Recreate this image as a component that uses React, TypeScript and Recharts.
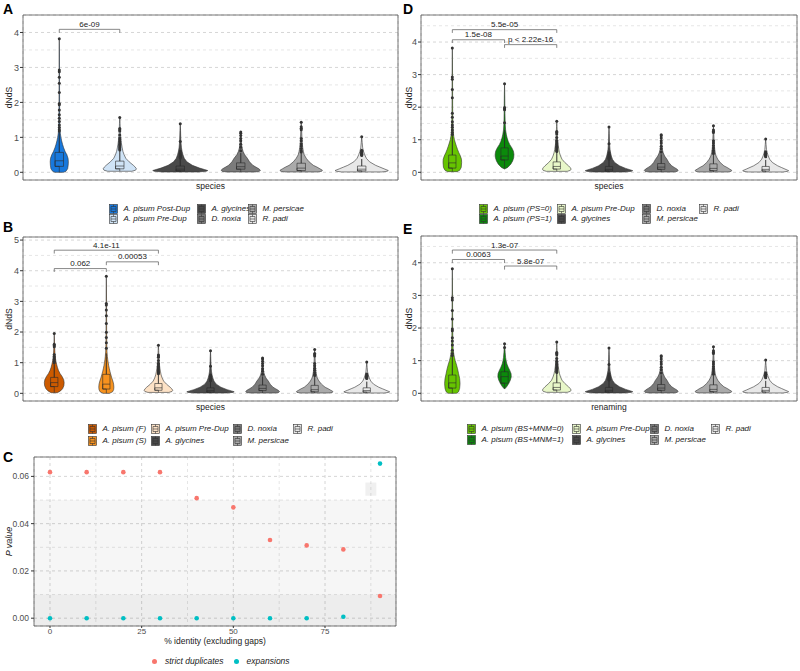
import React from "react";
import {
  ScatterChart,
  Scatter,
  XAxis,
  YAxis,
  CartesianGrid,
  ReferenceArea,
} from "recharts";

// [dNdS, half width of the violin in category units], bottom to top
type Density = [number, number][];
// [lower whisker, Q1, median, Q3, upper whisker]
type Box = [number, number, number, number, number];

const POST_DUP_DENSITY: Density = [
  [0, 0.07], [0.03, 0.11], [0.1, 0.138], [0.2, 0.147], [0.3, 0.15], [0.4, 0.145],
  [0.5, 0.125], [0.6, 0.095], [0.7, 0.072], [0.8, 0.054], [0.9, 0.039], [1.0, 0.027],
  [1.1, 0.018], [1.2, 0.012], [1.4, 0.008], [1.7, 0.006], [2.0, 0.005], [2.5, 0.004],
  [3.0, 0.003], [3.5, 0.002], [3.82, 0],
];
const PRE_DUP_DENSITY: Density = [
  [0.03, 0.2], [0.06, 0.26], [0.1, 0.275], [0.15, 0.255], [0.2, 0.225], [0.3, 0.155],
  [0.4, 0.1], [0.5, 0.072], [0.6, 0.052], [0.7, 0.04], [0.8, 0.03], [0.9, 0.022],
  [1.0, 0.016], [1.1, 0.011], [1.25, 0.008], [1.4, 0.005], [1.57, 0],
];
const GLYCINES_DENSITY: Density = [
  [0.01, 0.3], [0.03, 0.43], [0.05, 0.455], [0.08, 0.4], [0.12, 0.32], [0.2, 0.2],
  [0.3, 0.11], [0.4, 0.066], [0.5, 0.045], [0.6, 0.03], [0.7, 0.02], [0.85, 0.012],
  [1.0, 0.008], [1.2, 0.005], [1.39, 0],
];
const NOXIA_DENSITY: Density = [
  [0.01, 0.24], [0.03, 0.31], [0.06, 0.325], [0.1, 0.3], [0.15, 0.25], [0.2, 0.2],
  [0.3, 0.145], [0.4, 0.11], [0.5, 0.065], [0.6, 0.038], [0.7, 0.022], [0.8, 0.014],
  [0.95, 0.008], [1.15, 0],
];
const PERSICAE_DENSITY: Density = [
  [0.01, 0.26], [0.03, 0.34], [0.06, 0.35], [0.1, 0.31], [0.15, 0.26], [0.2, 0.2],
  [0.3, 0.13], [0.4, 0.083], [0.5, 0.05], [0.6, 0.035], [0.7, 0.025], [0.85, 0.016],
  [1.0, 0.012], [1.2, 0.007], [1.43, 0],
];
const PADI_DENSITY: Density = [
  [0.01, 0.33], [0.03, 0.42], [0.05, 0.44], [0.1, 0.37], [0.15, 0.3], [0.2, 0.23],
  [0.3, 0.13], [0.4, 0.077], [0.5, 0.05], [0.6, 0.03], [0.7, 0.016], [0.85, 0.008],
  [1.02, 0],
];
const F_DENSITY: Density = [
  [0.02, 0.06], [0.08, 0.12], [0.15, 0.16], [0.25, 0.185], [0.35, 0.19], [0.45, 0.18],
  [0.55, 0.15], [0.65, 0.11], [0.75, 0.08], [0.85, 0.06], [0.95, 0.045], [1.05, 0.032],
  [1.15, 0.022], [1.3, 0.014], [1.5, 0.008], [1.7, 0.005], [1.95, 0],
];
const S_DENSITY: Density = [
  [0, 0.06], [0.05, 0.12], [0.12, 0.14], [0.2, 0.145], [0.3, 0.14], [0.4, 0.125],
  [0.5, 0.105], [0.6, 0.088], [0.7, 0.072], [0.8, 0.058], [0.9, 0.046], [1.0, 0.036],
  [1.1, 0.027], [1.2, 0.02], [1.35, 0.013], [1.6, 0.008], [2.0, 0.006], [2.5, 0.005],
  [3.0, 0.004], [3.5, 0.002], [3.82, 0],
];
const PS0_DENSITY: Density = [
  [0.02, 0.09], [0.06, 0.14], [0.15, 0.17], [0.3, 0.178], [0.4, 0.175], [0.5, 0.155],
  [0.6, 0.125], [0.7, 0.1], [0.8, 0.078], [0.9, 0.058], [1.0, 0.04], [1.1, 0.028],
  [1.2, 0.02], [1.4, 0.012], [1.7, 0.008], [2.0, 0.006], [2.5, 0.005], [3.0, 0.004],
  [3.5, 0.002], [3.82, 0],
];
const PS1_DENSITY: Density = [
  [0.1, 0], [0.15, 0.06], [0.25, 0.12], [0.35, 0.155], [0.45, 0.175], [0.55, 0.18],
  [0.65, 0.17], [0.75, 0.14], [0.85, 0.1], [0.95, 0.07], [1.05, 0.05], [1.15, 0.035],
  [1.3, 0.02], [1.5, 0.012], [1.8, 0.008], [2.1, 0.006], [2.4, 0.004], [2.72, 0],
];
const BS0_DENSITY: Density = [
  [0, 0.08], [0.05, 0.12], [0.15, 0.14], [0.3, 0.148], [0.45, 0.14], [0.6, 0.12],
  [0.75, 0.1], [0.9, 0.075], [1.0, 0.055], [1.1, 0.04], [1.2, 0.028], [1.35, 0.016],
  [1.6, 0.01], [2.0, 0.007], [2.5, 0.005], [3.0, 0.004], [3.5, 0.002], [3.82, 0],
];
const BS1_DENSITY: Density = [
  [0.13, 0], [0.2, 0.04], [0.3, 0.08], [0.4, 0.11], [0.5, 0.128], [0.6, 0.125],
  [0.7, 0.1], [0.8, 0.07], [0.9, 0.045], [1.0, 0.03], [1.1, 0.02], [1.25, 0.012],
  [1.4, 0.006], [1.53, 0],
];

const POST_DUP_BOX: Box = [0, 0.17, 0.33, 0.57, 1.15];
const PRE_DUP_BOX: Box = [0.03, 0.1, 0.18, 0.32, 0.62];
const GLYCINES_BOX: Box = [0.01, 0.04, 0.09, 0.18, 0.38];
const NOXIA_BOX: Box = [0.01, 0.09, 0.16, 0.27, 0.55];
const PERSICAE_BOX: Box = [0.01, 0.05, 0.12, 0.26, 0.55];
const PADI_BOX: Box = [0.01, 0.04, 0.09, 0.18, 0.38];
const F_BOX: Box = [0.02, 0.22, 0.35, 0.52, 0.95];
const S_BOX: Box = [0, 0.14, 0.3, 0.62, 1.3];
const PS0_BOX: Box = [0.02, 0.13, 0.29, 0.53, 1.12];
const PS1_BOX: Box = [0.12, 0.38, 0.5, 0.75, 1.3];
const BS0_BOX: Box = [0, 0.16, 0.32, 0.56, 1.15];
const BS1_BOX: Box = [0.15, 0.31, 0.51, 0.66, 1.0];

const POST_DUP_OUTLIERS = [3.82, 2.93, 2.88, 2.72, 2.55, 2.28, 1.97, 1.93, 1.78, 1.65, 1.55, 1.45, 1.35, 1.28, 1.22, 1.18];
const PRE_DUP_OUTLIERS = [1.57, 1.25, 1.22, 1.18, 1.07, 0.98, 0.93, 0.88, 0.84, 0.8, 0.77, 0.73, 0.7, 0.67, 0.64];
const GLYCINES_OUTLIERS = [1.39, 0.88, 0.6, 0.55, 0.52, 0.49, 0.46, 0.43, 0.41];
const NOXIA_OUTLIERS = [1.15, 1.12, 1.05, 0.97, 0.9, 0.8, 0.72, 0.62];
const PERSICAE_OUTLIERS = [1.43, 1.3, 1.26, 1.22, 0.97, 0.9, 0.82, 0.75, 0.68, 0.62, 0.58];
const PADI_OUTLIERS = [1.02, 0.63, 0.6, 0.58, 0.56, 0.54, 0.52, 0.5, 0.48];
const F_OUTLIERS = [1.95, 1.6, 1.56, 1.52, 1.27, 1.2, 1.15, 1.1, 1.05, 1.0];
const S_OUTLIERS = [3.82, 2.93, 2.88, 2.72, 2.53, 2.28, 1.99, 1.82, 1.65, 1.47];
const PS0_OUTLIERS = [3.82, 2.93, 2.86, 2.54, 2.29, 1.81, 1.69, 1.55, 1.45, 1.38, 1.3, 1.22, 1.16];
const PS1_OUTLIERS = [2.72, 1.99, 1.95, 1.92, 1.52];
const BS0_OUTLIERS = [3.82, 2.93, 2.86, 2.54, 2.28, 1.97, 1.92, 1.7, 1.6, 1.48, 1.32, 1.22, 1.16];
const BS1_OUTLIERS = [1.52, 1.4];

const A_NAMES = ["A. pisum Post-Dup", "A. pisum Pre-Dup", "A. glycines", "D. noxia", "M. persicae", "R. padi"];
const B_NAMES = ["A. pisum (F)", "A. pisum (S)", "A. pisum Pre-Dup", "A. glycines", "D. noxia", "M. persicae", "R. padi"];
const D_NAMES = ["A. pisum (PS=0)", "A. pisum (PS=1)", "A. pisum Pre-Dup", "A. glycines", "D. noxia", "M. persicae", "R. padi"];
const E_NAMES = ["A. pisum (BS+MNM=0)", "A. pisum (BS+MNM=1)", "A. pisum Pre-Dup", "A. glycines", "D. noxia", "M. persicae", "R. padi"];

type Test = { from: number; to: number; y: number; p: string };
const A_TESTS: Test[] = [{ from: 1, to: 2, y: 4.09, p: "6e-09" }];
const B_TESTS: Test[] = [
  { from: 1, to: 2, y: 4.07, p: "0.062" },
  { from: 2, to: 3, y: 4.29, p: "0.00053" },
  { from: 1, to: 3, y: 4.67, p: "4.1e-11" },
];
const D_TESTS: Test[] = [
  { from: 1, to: 3, y: 4.38, p: "5.5e-05" },
  { from: 1, to: 2, y: 4.07, p: "1.5e-08" },
  { from: 2, to: 3, y: 3.92, p: "p < 2.22e-16" },
];
const E_TESTS: Test[] = [
  { from: 1, to: 3, y: 4.39, p: "1.3e-07" },
  { from: 1, to: 2, y: 4.1, p: "0.0063" },
  { from: 2, to: 3, y: 3.9, p: "5.8e-07" },
];

// panel C
const IDENTITY = [0, 10, 20, 30, 40, 50, 60, 70, 80, 90];
const STRICT_P = [0.0618, 0.0618, 0.0618, 0.0618, 0.0508, 0.0469, 0.0331, 0.0308, 0.0291, 0.0094];
const EXPANSION_P = [0, 0, 0, 0, 0, 0, 0, 0, 0.0006, 0.0654];

const FONT = '"Liberation Sans", Arial, Helvetica, sans-serif';
const GREYS = ["#4a4a4a", "#7b7b7b", "#aaaaaa", "#e8e8e8"];
const TICK = { fontSize: 9, fill: "#4d4d4d" };
const BOX_HALF = 0.07;

type Group = { name: string; fill: string; density: Density; box: Box; outliers: number[] };

const sharedGroups = (names: string[], preDupFill: string): Group[] => [
  { name: names[names.length - 5], fill: preDupFill, density: PRE_DUP_DENSITY, box: PRE_DUP_BOX, outliers: PRE_DUP_OUTLIERS },
  { name: names[names.length - 4], fill: GREYS[0], density: GLYCINES_DENSITY, box: GLYCINES_BOX, outliers: GLYCINES_OUTLIERS },
  { name: names[names.length - 3], fill: GREYS[1], density: NOXIA_DENSITY, box: NOXIA_BOX, outliers: NOXIA_OUTLIERS },
  { name: names[names.length - 2], fill: GREYS[2], density: PERSICAE_DENSITY, box: PERSICAE_BOX, outliers: PERSICAE_OUTLIERS },
  { name: names[names.length - 1], fill: GREYS[3], density: PADI_DENSITY, box: PADI_BOX, outliers: PADI_OUTLIERS },
];

const GROUPS_A: Group[] = [
  { name: A_NAMES[0], fill: "#1878dc", density: POST_DUP_DENSITY, box: POST_DUP_BOX, outliers: POST_DUP_OUTLIERS },
  ...sharedGroups(A_NAMES, "#cfe3f6"),
];
const GROUPS_B: Group[] = [
  { name: B_NAMES[0], fill: "#cc5a00", density: F_DENSITY, box: F_BOX, outliers: F_OUTLIERS },
  { name: B_NAMES[1], fill: "#f7921e", density: S_DENSITY, box: S_BOX, outliers: S_OUTLIERS },
  ...sharedGroups(B_NAMES, "#fde2c6"),
];
const GROUPS_D: Group[] = [
  { name: D_NAMES[0], fill: "#66c400", density: PS0_DENSITY, box: PS0_BOX, outliers: PS0_OUTLIERS },
  { name: D_NAMES[1], fill: "#0b8a0b", density: PS1_DENSITY, box: PS1_BOX, outliers: PS1_OUTLIERS },
  ...sharedGroups(D_NAMES, "#e8f7c9"),
];
const GROUPS_E: Group[] = [
  { name: E_NAMES[0], fill: "#66c400", density: BS0_DENSITY, box: BS0_BOX, outliers: BS0_OUTLIERS },
  { name: E_NAMES[1], fill: "#0b8a0b", density: BS1_DENSITY, box: BS1_BOX, outliers: BS1_OUTLIERS },
  ...sharedGroups(E_NAMES, "#e8f7c9"),
];

const violinOutline = (c: number, d: Density) => {
  const right = d.map(([y, w]) => ({ x: c + w, y }));
  const left = [...d].reverse().map(([y, w]) => ({ x: c - w, y }));
  return [...right, ...left, right[0]];
};

const boxOutline = (c: number, [lo, q1, med, q3, hi]: Box) => {
  const b = BOX_HALF;
  return [
    { x: c, y: lo }, { x: c, y: q1 }, { x: c - b, y: q1 }, { x: c + b, y: q1 },
    { x: c + b, y: q3 }, { x: c, y: q3 }, { x: c, y: hi }, { x: c, y: q3 },
    { x: c - b, y: q3 }, { x: c - b, y: q1 }, { x: c - b, y: med }, { x: c + b, y: med },
  ];
};

const emptyShape = () => <g />;
const outlierShape = (p: any) => <circle cx={p.cx} cy={p.cy} r={1.5} fill="#333" />;
const pLabelShape = (p: any) => (
  <text x={p.cx} y={p.cy - 2.5} textAnchor="middle" fontSize={8} fill="#222">
    {p.payload.p}
  </text>
);

type PanelProps = {
  groups: Group[];
  tests: Test[];
  yDomain: [number, number];
  yTicks: number[];
  minor: number[];
  tip: number;
  xTitle: string;
  yAxisWidth: number;
  margin: { top: number; right: number; bottom: number; left: number };
};

function ViolinPanel({ groups, tests, yDomain, yTicks, minor, tip, xTitle, yAxisWidth, margin }: PanelProps) {
  const cats = groups.map((_, i) => i + 1);
  const xDomain: [number, number] = [0.4, groups.length + 0.6];
  const outliers = groups.flatMap((g, i) => g.outliers.map((y) => ({ x: i + 1, y })));
  const labels = tests.map((t) => ({ x: (t.from + t.to) / 2, y: t.y, p: t.p }));
  return (
    <ScatterChart width={400} height={200} margin={margin}>
      <CartesianGrid stroke="#d6d6d6" strokeDasharray="3 3" />
      <CartesianGrid stroke="#e6e6e6" strokeDasharray="3 3" vertical={false} horizontalValues={minor} />
      <XAxis
        type="number"
        dataKey="x"
        domain={xDomain}
        ticks={cats}
        allowDataOverflow
        tick={false}
        tickLine={false}
        axisLine={false}
        height={10}
        label={{ value: xTitle, position: "insideBottom", offset: 1, fontSize: 8.5, fill: "#1a1a1a" }}
      />
      <YAxis
        type="number"
        dataKey="y"
        domain={yDomain}
        ticks={yTicks}
        allowDataOverflow
        width={yAxisWidth}
        tick={TICK}
        tickSize={3}
        tickMargin={1}
        tickLine={{ stroke: "#333" }}
        axisLine={false}
        label={{ value: "dNdS", angle: -90, position: "insideLeft", offset: 8.5, fontSize: 8.5, fill: "#1a1a1a", style: { textAnchor: "middle" } }}
      />
      <ReferenceArea x1={xDomain[0]} x2={xDomain[1]} y1={yDomain[0]} y2={yDomain[1]} fill="none" stroke="#555" strokeWidth={0.8} />
      {groups.map((g, i) => (
        <Scatter
          key={`v${i}`}
          data={violinOutline(i + 1, g.density)}
          line={{ fill: g.fill, stroke: "#333", strokeWidth: 0.6 }}
          shape={emptyShape}
          isAnimationActive={false}
        />
      ))}
      {groups.map((g, i) => (
        <Scatter
          key={`b${i}`}
          data={boxOutline(i + 1, g.box)}
          line={{ fill: "none", stroke: "#2a2a2a", strokeWidth: 0.6 }}
          shape={emptyShape}
          isAnimationActive={false}
        />
      ))}
      <Scatter data={outliers} shape={outlierShape} isAnimationActive={false} />
      {tests.map((t, i) => (
        <Scatter
          key={`t${i}`}
          data={[
            { x: t.from, y: t.y - tip },
            { x: t.from, y: t.y },
            { x: t.to, y: t.y },
            { x: t.to, y: t.y - tip },
          ]}
          line={{ fill: "none", stroke: "#555", strokeWidth: 0.7 }}
          shape={emptyShape}
          isAnimationActive={false}
        />
      ))}
      <Scatter data={labels} shape={pLabelShape} isAnimationActive={false} />
    </ScatterChart>
  );
}

function LegendKey({ fill }: { fill: string }) {
  return (
    <svg width={9} height={10} style={{ display: "block", flex: "none" }}>
      <rect x={0.5} y={0.5} width={8} height={9} fill={fill} stroke="#333" strokeWidth={0.6} />
      <path d="M4.5 0.5V2.5M4.5 7.5V9.5M2 2.5H7V7.5H2ZM2 5H7" fill="none" stroke="#333" strokeWidth={0.6} />
    </svg>
  );
}

function ViolinLegend({ groups, cols, rows }: { groups: Group[]; cols: number[]; rows: number[] }) {
  return (
    <>
      {groups.map((g, i) => {
        const left = cols[Math.floor(i / 2)];
        const top = rows[i % 2];
        return (
          <div key={g.name} style={{ position: "absolute", left, top, height: 10, display: "flex", alignItems: "center" }}>
            <LegendKey fill={g.fill} />
            <span style={{ marginLeft: 5.5, fontSize: 8, fontStyle: "italic", lineHeight: "10px", whiteSpace: "nowrap", color: "#1a1a1a" }}>
              {g.name}
            </span>
          </div>
        );
      })}
    </>
  );
}

function PanelC() {
  const strict = IDENTITY.map((x, i) => ({ x, y: STRICT_P[i] }));
  const expansions = IDENTITY.map((x, i) => ({ x, y: EXPANSION_P[i] }));
  const xDomain: [number, number] = [-4.36, 94.36];
  const yDomain: [number, number] = [-0.0033, 0.0682];
  const dot = (fill: string) => (p: any) => <circle cx={p.cx} cy={p.cy} r={2.3} fill={fill} />;
  return (
    <ScatterChart width={400} height={210} margin={{ top: 17, right: 4, bottom: 6, left: 0 }}>
      <ReferenceArea y1={0.01} y2={0.05} fill="#000" fillOpacity={0.035} stroke="none" />
      <ReferenceArea y1={yDomain[0]} y2={0.01} fill="#000" fillOpacity={0.07} stroke="none" />
      <ReferenceArea x1={86} x2={89} y1={0.0518} y2={0.0574} fill="#000" fillOpacity={0.06} stroke="none" />
      <CartesianGrid stroke="#d6d6d6" strokeDasharray="3 3" />
      <CartesianGrid
        stroke="#e6e6e6"
        strokeDasharray="3 3"
        horizontalValues={[0.01, 0.03, 0.05]}
        verticalValues={[12.5, 37.5, 62.5, 87.5]}
      />
      <XAxis
        type="number"
        dataKey="x"
        domain={xDomain}
        ticks={[0, 25, 50, 75]}
        allowDataOverflow
        tick={{ fontSize: 8, fill: "#4d4d4d" }}
        tickSize={2}
        tickMargin={0}
        tickLine={{ stroke: "#333" }}
        axisLine={false}
        height={18}
        label={{ value: "% identity (excluding gaps)", position: "insideBottom", offset: 0, fontSize: 8.5, fill: "#1a1a1a" }}
      />
      <YAxis
        type="number"
        dataKey="y"
        domain={yDomain}
        ticks={[0, 0.02, 0.04, 0.06]}
        allowDataOverflow
        width={34}
        tick={{ fontSize: 8.5, fill: "#4d4d4d" }}
        tickFormatter={(v: number) => v.toFixed(2)}
        tickSize={3}
        tickMargin={2}
        tickLine={{ stroke: "#333" }}
        axisLine={false}
        label={{ value: "P value", angle: -90, position: "insideLeft", offset: 8.5, fontSize: 9, fill: "#1a1a1a", fontStyle: "italic", style: { textAnchor: "middle" } }}
      />
      <ReferenceArea x1={xDomain[0]} x2={xDomain[1]} y1={yDomain[0]} y2={yDomain[1]} fill="none" stroke="#555" strokeWidth={0.8} />
      <Scatter data={strict} shape={dot("#F8766D")} isAnimationActive={false} />
      <Scatter data={expansions} shape={dot("#00BFC4")} isAnimationActive={false} />
    </ScatterChart>
  );
}

const letter = (text: string, left: number, top: number) => (
  <div style={{ position: "absolute", left, top, fontSize: 14, fontWeight: "bold", lineHeight: "14px" }}>{text}</div>
);

export default function App() {
  return (
    <div style={{ position: "absolute", left: 0, top: 0, width: 800, height: 671, background: "#fff", fontFamily: FONT, color: "#000" }}>
      <div style={{ position: "absolute", left: 0, top: 0 }}>
        <ViolinPanel groups={GROUPS_A} tests={A_TESTS} yDomain={[-0.22, 4.5]} yTicks={[0, 1, 2, 3, 4]}
          minor={[0.5, 1.5, 2.5, 3.5]} tip={0.1} xTitle="species" yAxisWidth={23}
          margin={{ top: 15, right: 2, bottom: 10, left: 0 }} />
      </div>
      <div style={{ position: "absolute", left: 0, top: 222 }}>
        <ViolinPanel groups={GROUPS_B} tests={B_TESTS} yDomain={[-0.25, 5.1]} yTicks={[0, 1, 2, 3, 4, 5]}
          minor={[0.5, 1.5, 2.5, 3.5, 4.5]} tip={0.11} xTitle="species" yAxisWidth={23}
          margin={{ top: 15, right: 2, bottom: 11, left: 0 }} />
      </div>
      <div style={{ position: "absolute", left: 400, top: 0 }}>
        <ViolinPanel groups={GROUPS_D} tests={D_TESTS} yDomain={[-0.236, 4.83]} yTicks={[0, 1, 2, 3, 4]}
          minor={[0.5, 1.5, 2.5, 3.5, 4.5]} tip={0.1} xTitle="species" yAxisWidth={21}
          margin={{ top: 15, right: 3, bottom: 10, left: 0 }} />
      </div>
      <div style={{ position: "absolute", left: 400, top: 222 }}>
        <ViolinPanel groups={GROUPS_E} tests={E_TESTS} yDomain={[-0.236, 4.82]} yTicks={[0, 1, 2, 3, 4]}
          minor={[0.5, 1.5, 2.5, 3.5, 4.5]} tip={0.11} xTitle="renaming" yAxisWidth={21}
          margin={{ top: 14, right: 3, bottom: 11, left: 0 }} />
      </div>
      <div style={{ position: "absolute", left: 0, top: 440 }}>
        <PanelC />
      </div>

      <ViolinLegend groups={GROUPS_A} cols={[109, 197, 248]} rows={[203.5, 214]} />
      <ViolinLegend groups={GROUPS_B} cols={[88, 151, 233, 293]} rows={[423.5, 435.5]} />
      <ViolinLegend groups={GROUPS_D} cols={[479, 557, 642, 699]} rows={[203.5, 214]} />
      <ViolinLegend groups={GROUPS_E} cols={[467, 572, 650, 711]} rows={[424, 435]} />

      <div style={{ position: "absolute", left: 152, top: 656, height: 10, display: "flex", alignItems: "center", fontSize: 8.5, fontStyle: "italic", color: "#1a1a1a", whiteSpace: "nowrap" }}>
        <span style={{ width: 5, height: 5, borderRadius: 3, background: "#F8766D", display: "inline-block" }} />
        <span style={{ marginLeft: 8 }}>strict duplicates</span>
        <span style={{ width: 5, height: 5, borderRadius: 3, background: "#00BFC4", display: "inline-block", marginLeft: 10 }} />
        <span style={{ marginLeft: 8 }}>expansions</span>
      </div>

      {letter("A", 3, 1.5)}
      {letter("B", 3, 220)}
      {letter("C", 3, 450)}
      {letter("D", 403, 1.5)}
      {letter("E", 403, 221.5)}
    </div>
  );
}
